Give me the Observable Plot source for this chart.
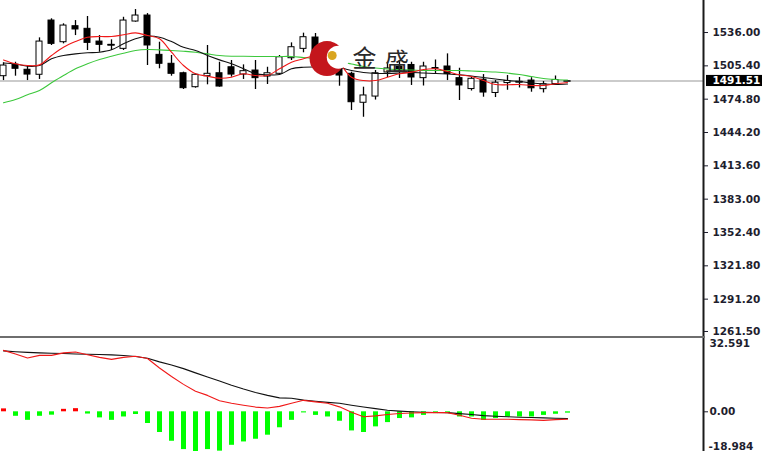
<!DOCTYPE html>
<html><head><meta charset="utf-8">
<script src="https://cdn.jsdelivr.net/npm/d3@7"></script>
<script src="https://cdn.jsdelivr.net/npm/@observablehq/plot@0.6"></script>
<style>
html,body{margin:0;padding:0;background:#fff;overflow:hidden;width:762px;height:451px}
svg{display:block}
#sep{width:705px;height:0;border-top:2px solid #6e6e6e}
</style></head><body>
<div id="topPanel"></div><div id="sep"></div><div id="botPanel"></div>
<script>
// Candles (price units)
const open  = [1495.9,1506.3,1501.8,1497.2,1547.0,1527.1,1541.8,1539.4,1527.7,1524.7,1521.0,1546.1,1551.6,1515.5,1507.3,1498.6,1485.8,1495.9,1498.6,1504.1,1497.4,1501.1,1495.6,1498.1,1512.4,1521.0,1531.4,1512.1,1503.2,1498.1,1471.5,1477.2,1499.3,1504.8,1506.2,1494.1,1502.7,1504.8,1494.1,1484.1,1492.7,1480.5,1489.6,1490.6,1491.9,1484.0,1488.7,1491.51];
const high  = [1508.2,1508.7,1504.8,1531.1,1548.6,1544.0,1547.0,1550.7,1533.2,1529.3,1550.0,1557.1,1553.4,1527.1,1514.9,1499.6,1498.1,1524.1,1508.7,1510.3,1506.3,1510.3,1504.1,1514.9,1526.5,1535.4,1535.1,1517.6,1505.7,1499.6,1485.8,1501.1,1508.5,1510.3,1508.7,1508.7,1510.8,1516.4,1503.2,1495.2,1497.4,1491.9,1496.5,1494.7,1494.5,1491.0,1496.1,1491.9];
const low   = [1491.9,1495.9,1491.9,1492.9,1524.1,1525.6,1533.2,1519.5,1517.9,1519.5,1519.5,1545.5,1505.7,1502.7,1495.9,1483.7,1484.9,1488.0,1485.8,1495.0,1492.9,1483.7,1488.3,1497.2,1510.3,1517.4,1506.6,1501.1,1486.7,1464.4,1458.2,1474.0,1494.7,1493.8,1487.4,1486.9,1498.4,1491.9,1473.6,1482.3,1476.6,1476.3,1483.0,1485.1,1481.2,1480.5,1487.8,1491.2];
const close = [1505.7,1502.7,1497.4,1527.7,1525.6,1542.4,1538.8,1526.5,1524.7,1524.2,1547.0,1551.6,1524.1,1507.3,1498.1,1484.9,1497.2,1498.1,1486.4,1497.4,1500.5,1494.1,1498.6,1513.3,1522.5,1531.7,1510.3,1504.8,1496.5,1472.0,1478.2,1498.6,1503.0,1501.1,1494.7,1504.8,1503.4,1497.9,1487.4,1493.5,1480.9,1489.9,1491.5,1490.8,1484.8,1488.5,1492.4,1491.51];

// Moving averages
const maFast  = [1510.8,1507.3,1505.7,1506.3,1514.9,1522.5,1527.7,1531.7,1532.3,1532.3,1533.9,1535.7,1533.2,1530.2,1517.9,1505.7,1498.1,1495.9,1494.1,1495.0,1498.1,1496.5,1496.5,1502.7,1508.7,1511.9,1514.9,1514.0,1507.3,1495.0,1491.9,1491.9,1495.0,1498.1,1499.6,1502.0,1502.7,1500.2,1497.2,1495.6,1491.9,1488.3,1488.0,1488.3,1487.4,1487.4,1488.9,1490.1];
const maMid   = [1508.0,1507.1,1505.1,1505.7,1511.9,1514.9,1516.4,1517.4,1517.9,1520.1,1525.6,1530.2,1532.8,1531.7,1527.7,1522.5,1519.5,1514.9,1510.9,1507.3,1502.7,1498.1,1497.2,1497.4,1502.7,1504.1,1504.3,1504.3,1503.9,1501.1,1499.3,1498.4,1498.4,1498.8,1499.3,1498.8,1498.4,1497.9,1497.2,1496.1,1494.7,1493.3,1491.9,1491.0,1489.6,1488.7,1488.3,1488.7];
const maSlow  = [1471.5,1474.5,1478.8,1482.8,1489.8,1496.5,1502.7,1507.3,1511.2,1514.2,1517.0,1519.5,1520.4,1520.1,1519.5,1518.8,1517.9,1516.4,1514.9,1514.2,1514.2,1514.0,1514.0,1514.0,1514.0,1513.0,1512.1,1511.2,1509.4,1507.1,1504.8,1503.4,1502.5,1502.0,1501.6,1501.1,1501.1,1501.1,1501.1,1500.7,1500.2,1499.7,1498.8,1497.4,1495.6,1493.8,1492.9,1492.4];

// MACD panel
const macdLine   = [27.1,26.7,26.4,26.2,26.0,25.9,25.7,25.6,25.5,25.3,25.0,24.6,23.8,22.2,20.8,19.2,17.3,15.5,13.7,11.8,10.1,8.6,7.3,6.2,6.0,5.2,4.7,4.2,3.8,2.9,2.1,1.4,0.7,0.3,0.0,-0.2,-0.3,-0.35,-0.8,-1.2,-1.7,-2.0,-2.2,-2.4,-2.5,-2.7,-2.9,-3.0];
const signalLine = [27.3,25.7,23.9,25.1,25.1,26.2,26.6,25.4,24.2,23.3,24.2,24.7,23.7,19.5,15.7,12.2,9.1,7.3,4.9,3.8,2.9,2.1,1.7,2.4,3.8,5.1,4.4,3.8,2.2,-0.2,-2.2,-1.8,-1.2,-0.75,-0.5,-0.35,-0.35,-0.35,-1.55,-2.9,-3.3,-3.3,-3.3,-3.5,-3.6,-3.8,-3.5,-3.3];
const histogram  = [1.3,-2.0,-3.8,-2.0,-1.5,1.1,1.4,-1.0,-2.7,-3.8,-2.3,-1.2,-5.2,-9.2,-13.1,-16.8,-18.5,-16.8,-17.5,-14.9,-13.4,-12.2,-10.4,-7.1,-3.8,-0.5,-1.6,-2.3,-4.2,-8.5,-9.2,-6.7,-4.8,-3.0,-2.7,-1.6,-0.8,-0.8,-2.3,-2.3,-3.8,-3.0,-2.3,-2.3,-2.3,-1.6,-1.1,-0.6];

// Tick labels
const priceTicks = [1536.00,1505.40,1474.80,1444.20,1413.60,1383.00,1352.40,1321.80,1291.20,1261.50];
const lastPrice = 1491.51;
const macdTop = "32.591", macdZero = 0, macdBottom = "-18.984";

// Watermark
const logoText = [{t:"金", i:30.08, p:1511.2}, {t:"盛", i:32.79, p:1508.6}];
const logoParts = [{i:26.96, p:1512.1, r:17.5, fill:"#c4161c"}, {i:27.9, p:1513.4, r:11.5, fill:"#ffffff"}, {i:27.39, p:1514.9, r:4.5, fill:"#d9a520"}];

const candles = open.map((o,i)=>({i, o, h:high[i], l:low[i], c:close[i]}));
const xDomain = [-0.25, 58.333];
const xMax = xDomain[1];
const idxAt = px => xDomain[0] + px*(xDomain[1]-xDomain[0])/703;
const chartStyle = {fontFamily:"DejaVu Sans", fontSize:"10.5px", fontWeight:"bold", color:"#1e1e2e", background:"#fff"};

const topChart = Plot.plot({
  width:762, height:336, marginLeft:0, marginRight:59, marginTop:0, marginBottom:0,
  x:{domain:xDomain, axis:null},
  y:{domain:[1256.9,1565.4], axis:null},
  r:{type:"identity"},
  style:chartStyle,
  marks:[
    Plot.ruleY([lastPrice], {stroke:"#cbcbcb", strokeWidth:2}),
    Plot.ruleX(candles, {x:"i", y1:"l", y2:"h", stroke:"#000", strokeWidth:1.3}),
    Plot.rect(candles, {x1:d=>d.i-0.25, x2:d=>d.i+0.25, y1:"o", y2:"c", fill:d=>d.c>d.o?"#fff":"#000", stroke:"#000", strokeWidth:1}),
    Plot.ruleY(candles.filter(d=>Math.abs(d.c-d.o)<0.6), {y:"o", x1:d=>d.i-0.3, x2:d=>d.i+0.3, stroke:"#000", strokeWidth:1.5}),
    Plot.lineY(maSlow, {stroke:"#3cc83c", strokeWidth:1.1, curve:"catmull-rom"}),
    Plot.lineY(maMid, {stroke:"#111", strokeWidth:1.1, curve:"catmull-rom"}),
    Plot.lineY(maFast, {stroke:"#f01818", strokeWidth:1.1, curve:"catmull-rom"}),
    Plot.dot(logoParts, {x:"i", y:"p", r:"r", fill:"fill"}),
    Plot.text(logoText, {x:"i", y:"p", text:"t", fontSize:24, fontFamily:"Noto Sans CJK SC", fontWeight:"normal", fill:"#2a2a2a"}),
    Plot.ruleX([xMax], {stroke:"#1a1a1a", strokeWidth:2}),
    Plot.axisY(priceTicks, {anchor:"right", tickSize:4, tickPadding:5, tickFormat:d=>d.toFixed(2)}),
    Plot.rect([lastPrice], {x1:()=>idxAt(706), x2:()=>idxAt(762), y1:d=>d-5.1, y2:d=>d+5.1, fill:"#000"}),
    Plot.text([lastPrice], {y:d=>d, frameAnchor:"right", dx:9, textAnchor:"start", fill:"#fff", text:d=>d.toFixed(2)})
  ]
});
document.getElementById("topPanel").append(topChart);

const botChart = Plot.plot({
  width:762, height:116, marginLeft:0, marginRight:59, marginTop:0, marginBottom:0,
  x:{domain:xDomain, axis:null},
  y:{domain:[-18.984, 32.591], axis:null},
  style:chartStyle,
  marks:[
    Plot.ruleX(histogram, {x:(d,i)=>i, y1:0, y2:d=>d, stroke:d=>d>0?"#ff0000":"#00ff00", strokeWidth:5}),
    Plot.lineY(macdLine, {stroke:"#111", strokeWidth:1.1}),
    Plot.lineY(signalLine, {stroke:"#f01818", strokeWidth:1.1}),
    Plot.ruleX([xMax], {stroke:"#1a1a1a", strokeWidth:2}),
    Plot.axisY([macdZero], {anchor:"right", tickSize:4, tickPadding:2, tickFormat:d=>d.toFixed(2)}),
    Plot.text([macdTop], {frameAnchor:"top-right", dx:6, dy:1, textAnchor:"start", lineAnchor:"top", text:d=>d}),
    Plot.text([macdBottom], {frameAnchor:"bottom-right", dx:5, dy:-5, textAnchor:"start", lineAnchor:"bottom", text:d=>d})
  ]
});
document.getElementById("botPanel").append(botChart);
</script>
</body></html>
